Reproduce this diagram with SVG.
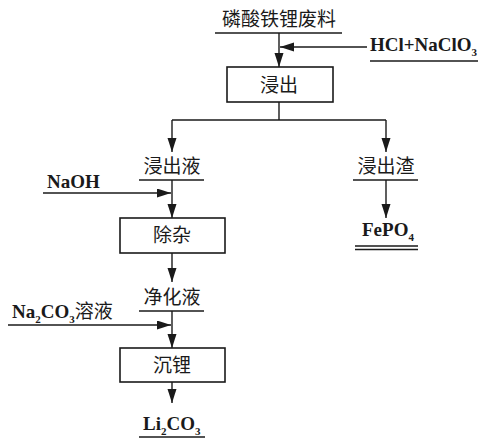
<svg xmlns="http://www.w3.org/2000/svg" width="484" height="439" viewBox="0 0 484 439">
<style>
.cn{font-family:"Liberation Serif","Noto Sans CJK SC",serif;font-size:19px;fill:#1a1a1a}
.en{font-family:"Liberation Serif","Noto Sans CJK SC",serif;font-size:19px;font-weight:bold;fill:#1a1a1a}
.sub{font-size:11px}
.ln{stroke:#1a1a1a;stroke-width:1.4;fill:none}
.box{stroke:#1a1a1a;stroke-width:1.6;fill:#fff}
</style>
<defs>
<marker id="ah" markerUnits="userSpaceOnUse" markerWidth="14" markerHeight="10" refX="14" refY="4.5" orient="auto">
<path d="M0,0 L14,4.5 L0,9 z" fill="#1a1a1a"/>
</marker>
</defs>
<g id="connectors">
<path class="ln" d="M279,33 V67" marker-end="url(#ah)"/>
<path class="ln" d="M367,47 H280" marker-end="url(#ah)"/>
<path class="ln" d="M279,102 V120 M172,120 H386"/>
<path class="ln" d="M172,120 V152" marker-end="url(#ah)"/>
<path class="ln" d="M386,120 V152" marker-end="url(#ah)"/>
<path class="ln" d="M172,180 V218" marker-end="url(#ah)"/>
<path class="ln" d="M43,193 H171" marker-end="url(#ah)"/>
<path class="ln" d="M386,180 V218" marker-end="url(#ah)"/>
<path class="ln" d="M172,253 V282" marker-end="url(#ah)"/>
<path class="ln" d="M172,311 V348" marker-end="url(#ah)"/>
<path class="ln" d="M8,325 H171" marker-end="url(#ah)"/>
<path class="ln" d="M172,382 V403" marker-end="url(#ah)"/>
</g>
<g id="raw">
<text class="cn" x="279" y="26" text-anchor="middle">磷酸铁锂废料</text>
<path class="ln" d="M215,33 H342"/>
</g>
<g id="acid">
<text class="en" x="370" y="51">HCl+NaClO<tspan class="sub" dy="5">3</tspan></text>
<path class="ln" d="M370,61 H478"/>
</g>
<g id="leach">
<rect class="box" x="227" y="67" width="106" height="35"/>
<text class="cn" x="279" y="92" text-anchor="middle">浸出</text>
</g>
<g id="leachate">
<text class="cn" x="172" y="173" text-anchor="middle">浸出液</text>
<path class="ln" d="M139,180 H204"/>
</g>
<g id="residue">
<text class="cn" x="386" y="173" text-anchor="middle">浸出渣</text>
<path class="ln" d="M353,180 H418"/>
</g>
<g id="naoh">
<text class="en" x="47" y="188">NaOH</text>
</g>
<g id="fepo4">
<text class="en" x="362" y="236">FePO<tspan class="sub" dy="5">4</tspan></text>
<path class="ln" d="M355,246 H418 M355,249.5 H418"/>
</g>
<g id="purify">
<rect class="box" x="120" y="218" width="105" height="35"/>
<text class="cn" x="172" y="242" text-anchor="middle">除杂</text>
</g>
<g id="clean">
<text class="cn" x="172" y="304" text-anchor="middle">净化液</text>
<path class="ln" d="M139,311 H204"/>
</g>
<g id="na2co3">
<text class="en" x="12" y="318">Na<tspan class="sub" dy="5">2</tspan><tspan dy="-5">CO</tspan><tspan class="sub" dy="5">3</tspan><tspan dy="-5" font-weight="normal">溶液</tspan></text>
</g>
<g id="precip">
<rect class="box" x="120" y="348" width="105" height="34"/>
<text class="cn" x="172" y="372" text-anchor="middle">沉锂</text>
</g>
<g id="li2co3">
<text class="en" x="143" y="430">Li<tspan class="sub" dy="5">2</tspan><tspan dy="-5">CO</tspan><tspan class="sub" dy="5">3</tspan></text>
<path class="ln" d="M139,437 H205"/>
</g>
</svg>
